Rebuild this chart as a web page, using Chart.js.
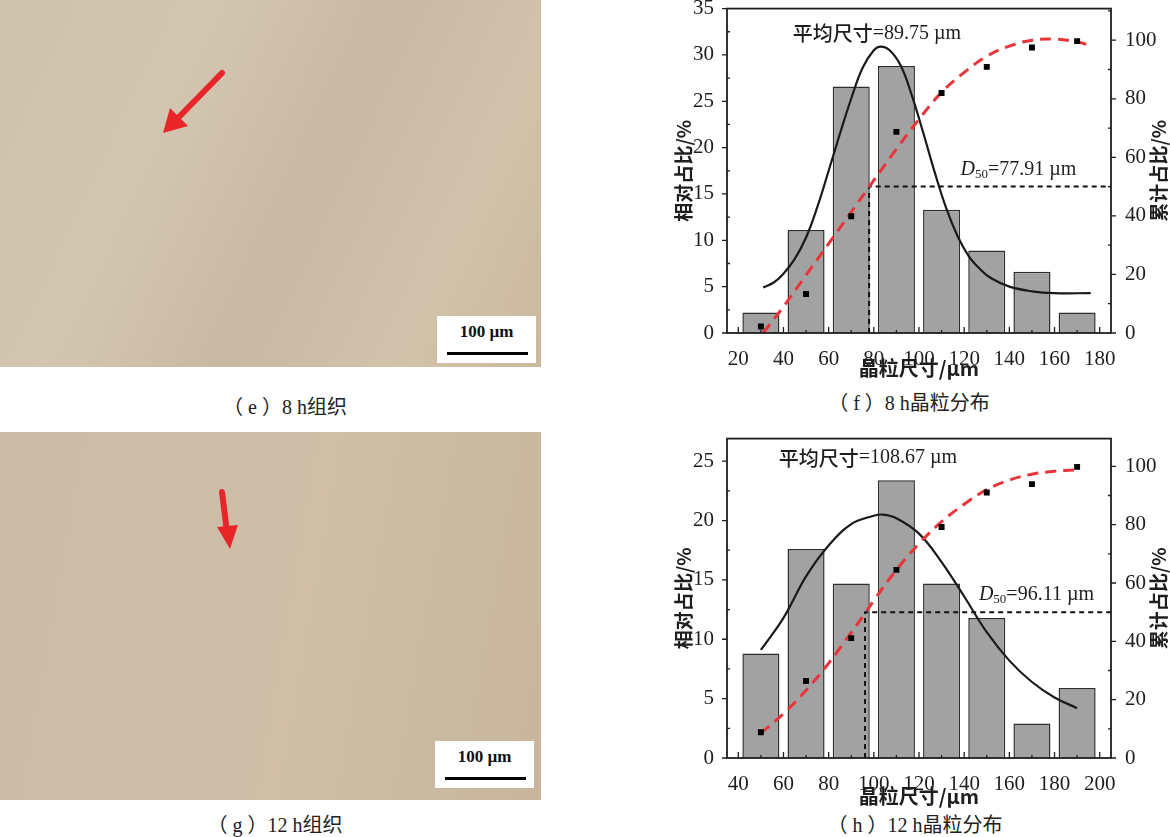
<!DOCTYPE html>
<html><head><meta charset="utf-8">
<script src="https://cdn.jsdelivr.net/npm/chart.js@4.4.1/dist/chart.umd.min.js"></script>
<style>
body{margin:0;width:1170px;height:837px;background:#fff;position:relative;overflow:hidden;font-family:'Liberation Serif','Noto Sans CJK SC',serif;}
.micro{position:absolute;left:0;width:541px;}
#me{top:0;height:367px;background:linear-gradient(115deg,#cfc1ab 0%,#d3c6b1 30%,#c9b9a2 55%,#d1c2aa 80%,#cbb89e 100%);}
#mg{top:432px;height:368px;background:linear-gradient(100deg,#cbbca6 0%,#cdbea8 35%,#d0bea6 55%,#cbbaa2 80%,#c8b59c 100%);}
.sbox{position:absolute;width:99px;height:47px;background:#fff;}
.sbox .lbl{position:absolute;left:0;right:0;top:6px;text-align:center;font:bold 17px 'Liberation Serif',serif;color:#111;}
.sbox .bar{position:absolute;left:10px;right:8px;bottom:8px;height:3px;background:#000;}
.cap{position:absolute;transform:translate(-50%,-50%);font-size:20px;color:#222;white-space:nowrap;font-family:'Liberation Serif','Noto Sans CJK SC',serif;}
.cwrap{position:absolute;left:670px;}
</style></head><body>
<div class="micro" id="me"></div>
<div class="micro" id="mg"></div>
<div class="sbox" style="left:437px;top:316px;"><div class="lbl">100 µm</div><div class="bar"></div></div>
<div class="sbox" style="left:435px;top:741px;"><div class="lbl">100 µm</div><div class="bar"></div></div>
<svg style="position:absolute;left:0;top:0" width="560" height="837">
  <line x1="222" y1="73" x2="178" y2="118" stroke="#e8262a" stroke-width="6" stroke-linecap="round"/>
  <polygon points="163,133 170,108 188,126" fill="#e8262a"/>
  <line x1="222" y1="492" x2="227" y2="532" stroke="#e8262a" stroke-width="6" stroke-linecap="round"/>
  <polygon points="230,549 217,527 238,525" fill="#e8262a"/>
</svg>
<div class="cap" style="left:285px;top:405px;">（ e ）8 h组织</div>
<div class="cap" style="left:909px;top:401px;">（ f ）8 h晶粒分布</div>
<div class="cap" style="left:275px;top:823px;">（ g ）12 h组织</div>
<div class="cap" style="left:915px;top:823px;">（ h ）12 h晶粒分布</div>
<div class="cwrap" style="top:-10px;"><canvas id="cf" width="500" height="400"></canvas></div>
<div class="cwrap" style="top:420px;"><canvas id="ch" width="500" height="398"></canvas></div>
<script>
// ---------- (f) 8 h ----------
const sizesF = [30, 50, 70, 90, 110, 130, 150, 170];
const relF = [2.2, 11.1, 26.6, 28.8, 13.3, 8.9, 6.6, 2.2];
const cumF = [2.2, 13.3, 39.9, 68.7, 82.0, 90.9, 97.5, 99.7];
const gaussXF = [31, 36, 40, 45, 50, 55, 60, 65, 70, 75, 80, 83, 87, 92, 97, 102, 107, 112, 117, 122, 127, 132, 140, 150, 160, 176];
const gaussYF = [4.9, 5.5, 6.4, 8.0, 10.3, 13.6, 17.5, 21.5, 25.3, 28.6, 30.5, 30.9, 30.5, 28.8, 25.5, 21.5, 17.3, 13.5, 10.5, 8.3, 6.9, 5.9, 5.0, 4.5, 4.3, 4.3];
const cumFitXF = [31, 40, 50, 60, 70, 78, 90, 100, 110, 120, 130, 140, 150, 160, 170, 176];
const cumFitYF = [0, 9, 19.8, 30.5, 41.3, 50, 62.8, 73, 82.2, 89, 94.5, 98, 100, 100.4, 99.4, 98.2];
const meanF = '89.75';
const d50F = 77.91;
const xTicksF = [20, 40, 60, 80, 100, 120, 140, 160, 180];
const yTicksF = [0, 5, 10, 15, 20, 25, 30, 35];

// ---------- (h) 12 h ----------
const sizesH = [50, 70, 90, 110, 130, 150, 170, 190];
const relH = [8.8, 17.6, 14.7, 23.4, 14.7, 11.8, 2.9, 5.9];
const cumH = [8.8, 26.4, 41.1, 64.5, 79.2, 91.0, 93.9, 99.8];
const gaussXH = [50, 60, 70, 80, 90, 100, 104, 110, 120, 130, 140, 150, 160, 170, 180, 190];
const gaussYH = [9.1, 11.8, 15.3, 17.9, 19.7, 20.4, 20.5, 20.2, 18.9, 16.5, 13.6, 10.6, 8.2, 6.4, 5.1, 4.2];
const cumFitXH = [50, 60, 70, 80, 90, 96, 100, 110, 120, 130, 140, 150, 160, 170, 180, 190];
const cumFitYH = [8.5, 15.2, 23.2, 32.5, 43, 49.5, 54, 64.5, 73.5, 81, 87, 92, 95.3, 97.3, 98.3, 98.8];
const meanH = '108.67';
const d50H = 96.11;
const xTicksH = [40, 60, 80, 100, 120, 140, 160, 180, 200];
const yTicksH = [0, 5, 10, 15, 20, 25];

const cumTicks = [0, 20, 40, 60, 80, 100];

const decor = {
  id: 'decor',
  afterDatasetsDraw(chart, args, o) {
    const {ctx, chartArea: ca, scales} = chart;
    ctx.save();
    ctx.strokeStyle = '#1e1e1e';
    ctx.lineWidth = 1.3;
    const minorsOf = (s) => {
      const v = s.ticks.map(t => t.value), m = [];
      const step = v[1] - v[0];
      for (let a = v[0] - step / 2; a <= s.max; a += step) if (a >= s.min) m.push(a);
      return {v, m};
    };
    ctx.beginPath();
    let t = minorsOf(scales.x);
    t.v.forEach(v => { const p = scales.x.getPixelForValue(v); ctx.moveTo(p, ca.bottom); ctx.lineTo(p, ca.bottom - 6); });
    t.m.forEach(v => { const p = scales.x.getPixelForValue(v); ctx.moveTo(p, ca.bottom); ctx.lineTo(p, ca.bottom - 3); });
    t = minorsOf(scales.y);
    t.v.forEach(v => { const p = scales.y.getPixelForValue(v); ctx.moveTo(ca.left, p); ctx.lineTo(ca.left - 5, p); });
    t.m.forEach(v => { const p = scales.y.getPixelForValue(v); ctx.moveTo(ca.left, p); ctx.lineTo(ca.left + 3, p); });
    t = minorsOf(scales.y2);
    t.v.forEach(v => { const p = scales.y2.getPixelForValue(v); ctx.moveTo(ca.right, p); ctx.lineTo(ca.right + 5, p); });
    t.m.forEach(v => { const p = scales.y2.getPixelForValue(v); ctx.moveTo(ca.right, p); ctx.lineTo(ca.right - 3, p); });
    ctx.stroke();
    ctx.lineWidth = 1.8;
    ctx.strokeRect(ca.left, ca.top, ca.right - ca.left, ca.bottom - ca.top);

    // axis titles (both read bottom-to-top)
    ctx.fillStyle = '#1e1e1e';
    ctx.font = "600 19px 'Noto Sans CJK SC'";
    ctx.textAlign = 'center'; ctx.textBaseline = 'middle';
    const mid = (ca.top + ca.bottom) / 2;
    [[ca.left - 43, o.leftTitle], [ca.right + 48, o.rightTitle]].forEach(([px, txt]) => {
      ctx.save(); ctx.translate(px, mid); ctx.rotate(-Math.PI / 2); ctx.fillText(txt, 0, 0); ctx.restore();
    });

    // annotations
    ctx.textAlign = 'left';
    o.notes.forEach(n => {
      let w = 0;
      n.parts.forEach(p => { ctx.font = p.f; w += ctx.measureText(p.t).width; });
      let cx = scales.x.getPixelForValue(n.x) - w / 2;
      const cy = scales.y.getPixelForValue(n.y);
      n.parts.forEach(p => { ctx.font = p.f; ctx.fillText(p.t, cx, cy + (p.dy || 0)); cx += ctx.measureText(p.t).width; });
    });
    ctx.restore();
  }
};

function build(id, cfg) {
  const tickFont = {family: 'Liberation Serif', size: 21};
  const pts = (xs, ys) => xs.map((x, i) => ({x, y: ys[i]}));
  return new Chart(document.getElementById(id), {
    type: 'bar',
    data: {
      datasets: [
        {type: 'line', data: [{x: cfg.d50, y: 0}, {x: cfg.d50, y: 50}, {x: cfg.xMax, y: 50}], yAxisID: 'y2',
         borderColor: '#111', borderWidth: 2, borderDash: [5, 4], pointRadius: 0, tension: 0, order: 3},
        {type: 'line', data: pts(cfg.gx, cfg.gy), yAxisID: 'y', borderColor: '#1a1a1a', borderWidth: 2.2,
         pointRadius: 0, tension: 0.4, order: 2},
        {type: 'line', data: pts(cfg.cx, cfg.cy), yAxisID: 'y2', borderColor: '#e8353a', borderWidth: 3,
         borderDash: [11, 7], pointRadius: 0, tension: 0.4, order: 1},
        {type: 'line', data: pts(cfg.sizes, cfg.cum), yAxisID: 'y2', showLine: false, pointStyle: 'rect',
         pointRadius: 4.2, backgroundColor: '#000', borderColor: '#000', borderWidth: 0, order: 0},
        {type: 'bar', data: pts(cfg.sizes, cfg.rel), yAxisID: 'y', backgroundColor: '#a2a2a2',
         borderColor: '#2e2e2e', borderWidth: 1.5, barPercentage: 0.82, categoryPercentage: 1, order: 10}
      ]
    },
    options: {
      responsive: false, animation: false, events: [],
      layout: {padding: {top: 15, bottom: 10, left: 0, right: 0}},
      plugins: {legend: {display: false}, tooltip: {enabled: false},
        decor: {leftTitle: '相对占比/%', rightTitle: '累计占比/%', notes: cfg.notes}},
      scales: {
        x: {type: 'linear', min: cfg.xMin, max: cfg.xMax, offset: false,
            grid: {display: false}, border: {display: false},
            ticks: {font: tickFont, color: '#1e1e1e', padding: 6, maxRotation: 0},
            title: {display: true, text: '晶粒尺寸/µm', color: '#1e1e1e', padding: {top: 0, bottom: 0},
                    font: {family: 'Noto Sans CJK SC', size: 20, weight: '600', lineHeight: 1.2}},
            afterBuildTicks: s => { s.ticks = cfg.xTicks.map(v => ({value: v})); },
            afterFit: s => { s.height = cfg.xH; }},
        y: {position: 'left', min: 0, max: cfg.yMax, grid: {display: false}, border: {display: false},
            ticks: {font: tickFont, color: '#1e1e1e', padding: 5},
            afterBuildTicks: s => { s.ticks = cfg.yTicks.map(v => ({value: v})); },
            afterFit: s => { s.width = 57; }},
        y2: {position: 'right', min: 0, max: cfg.y2Max, grid: {display: false}, border: {display: false},
            ticks: {font: tickFont, color: '#1e1e1e', padding: 6},
            afterBuildTicks: s => { s.ticks = cumTicks.map(v => ({value: v})); },
            afterFit: s => { s.width = 59; }}
      }
    },
    plugins: [decor]
  });
}

const serif20 = "20px 'Liberation Serif'";
const cjk20 = "500 20px 'Noto Sans CJK SC'";
build('cf', {
  sizes: sizesF, rel: relF, cum: cumF, gx: gaussXF, gy: gaussYF, cx: cumFitXF, cy: cumFitYF,
  d50: d50F, xMin: 15, xMax: 185, yMax: 35, y2Max: 110.8, xTicks: xTicksF, yTicks: yTicksF, xH: 47,
  notes: [
    {x: 81.4, y: 32.3, parts: [{t: '平均尺寸', f: cjk20}, {t: '=' + meanF + ' µm', f: serif20}]},
    {x: 144, y: 17.6, parts: [{t: 'D', f: "italic 20px 'Liberation Serif'"}, {t: '50', f: "13px 'Liberation Serif'", dy: 5},
      {t: '=' + d50F.toFixed(2) + ' µm', f: serif20}]}
  ]
});
build('ch', {
  sizes: sizesH, rel: relH, cum: cumH, gx: gaussXH, gy: gaussYH, cx: cumFitXH, cy: cumFitYH,
  d50: d50H, xMin: 35, xMax: 205, yMax: 26.9, y2Max: 109.5, xTicks: xTicksH, yTicks: yTicksH, xH: 50,
  notes: [
    {x: 97.4, y: 25.25, parts: [{t: '平均尺寸', f: cjk20}, {t: '=' + meanH + ' µm', f: serif20}]},
    {x: 172, y: 13.75, parts: [{t: 'D', f: "italic 20px 'Liberation Serif'"}, {t: '50', f: "13px 'Liberation Serif'", dy: 5},
      {t: '=' + d50H.toFixed(2) + ' µm', f: serif20}]}
  ]
});
</script>
</body></html>
